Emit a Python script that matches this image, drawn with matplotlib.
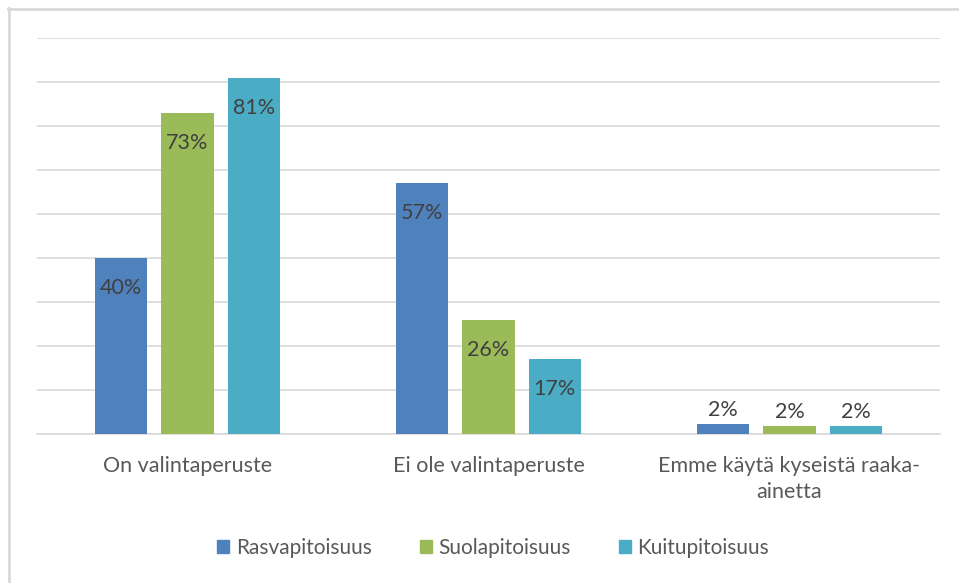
import numpy as np
import matplotlib.pyplot as plt
from matplotlib.lines import Line2D

categories = ['On valintaperuste', 'Ei ole valintaperuste', 'Emme käytä kyseistä raaka-\nainetta']
series = ['Rasvapitoisuus', 'Suolapitoisuus', 'Kuitupitoisuus']
rasva = [40, 57, 2.2]
suola = [73, 26, 1.8]
kuitu = [81, 17, 1.8]
colors = ['#4F81BD', '#9BBB59', '#4BACC6']

plt.rcParams['font.family'] = ['Lato', 'DejaVu Sans']

fig = plt.figure(figsize=(9.59, 5.83), dpi=100)
ax = fig.add_axes([37 / 959, 149 / 583, 903 / 959, 396 / 583])

x = np.arange(len(categories))
width = 0.173
step = 0.22
for i, (name, vals) in enumerate(zip(series, [rasva, suola, kuitu])):
    pos = x + (i - 1) * step
    bars = ax.bar(pos, vals, width, color=colors[i], label=name, zorder=3)
    for b, v in zip(bars, vals):
        if v > 10:
            ax.text(b.get_x() + b.get_width() / 2, v - 6.8, f'{round(v)}%',
                    ha='center', va='center', fontsize=15.5, color='#404040', zorder=4)
        else:
            ax.text(b.get_x() + b.get_width() / 2, v + 1.0, f'{round(v)}%',
                    ha='center', va='bottom', fontsize=15.5, color='#404040', zorder=4)

ax.set_xlim(-0.5, 2.5)
ax.set_ylim(0, 90)
ax.set_yticks(np.arange(0, 91, 10))
ax.yaxis.grid(True, color='#d9d9d9', linewidth=1.2, zorder=0)
ax.tick_params(axis='y', left=False, labelleft=False)
ax.tick_params(axis='x', bottom=False, pad=12)
ax.set_xticks(x)
ax.set_xticklabels(categories, fontsize=15.5, color='#595959', linespacing=1.4)
for s in ['top', 'right', 'left']:
    ax.spines[s].set_visible(False)
ax.spines['bottom'].set_color('#d9d9d9')
ax.spines['bottom'].set_linewidth(1.2)

handles = [plt.Rectangle((0, 0), 1, 1, color=c) for c in colors]
fig.legend(handles, series, loc='center', bbox_to_anchor=(493 / 959, 1 - 548 / 583),
           ncol=3, frameon=False, fontsize=15, labelcolor='#595959',
           handlelength=0.6, handleheight=0.6, handletextpad=0.3, columnspacing=2.3)

# chart area border (top and left edges visible)
fig.add_artist(Line2D([8 / 959, 1], [1 - 9 / 583, 1 - 9 / 583], color='#d9d9d9', linewidth=2))
fig.add_artist(Line2D([9 / 959, 9 / 959], [0, 1 - 8 / 583], color='#d9d9d9', linewidth=2))

fig.savefig('out.png', dpi=100)
